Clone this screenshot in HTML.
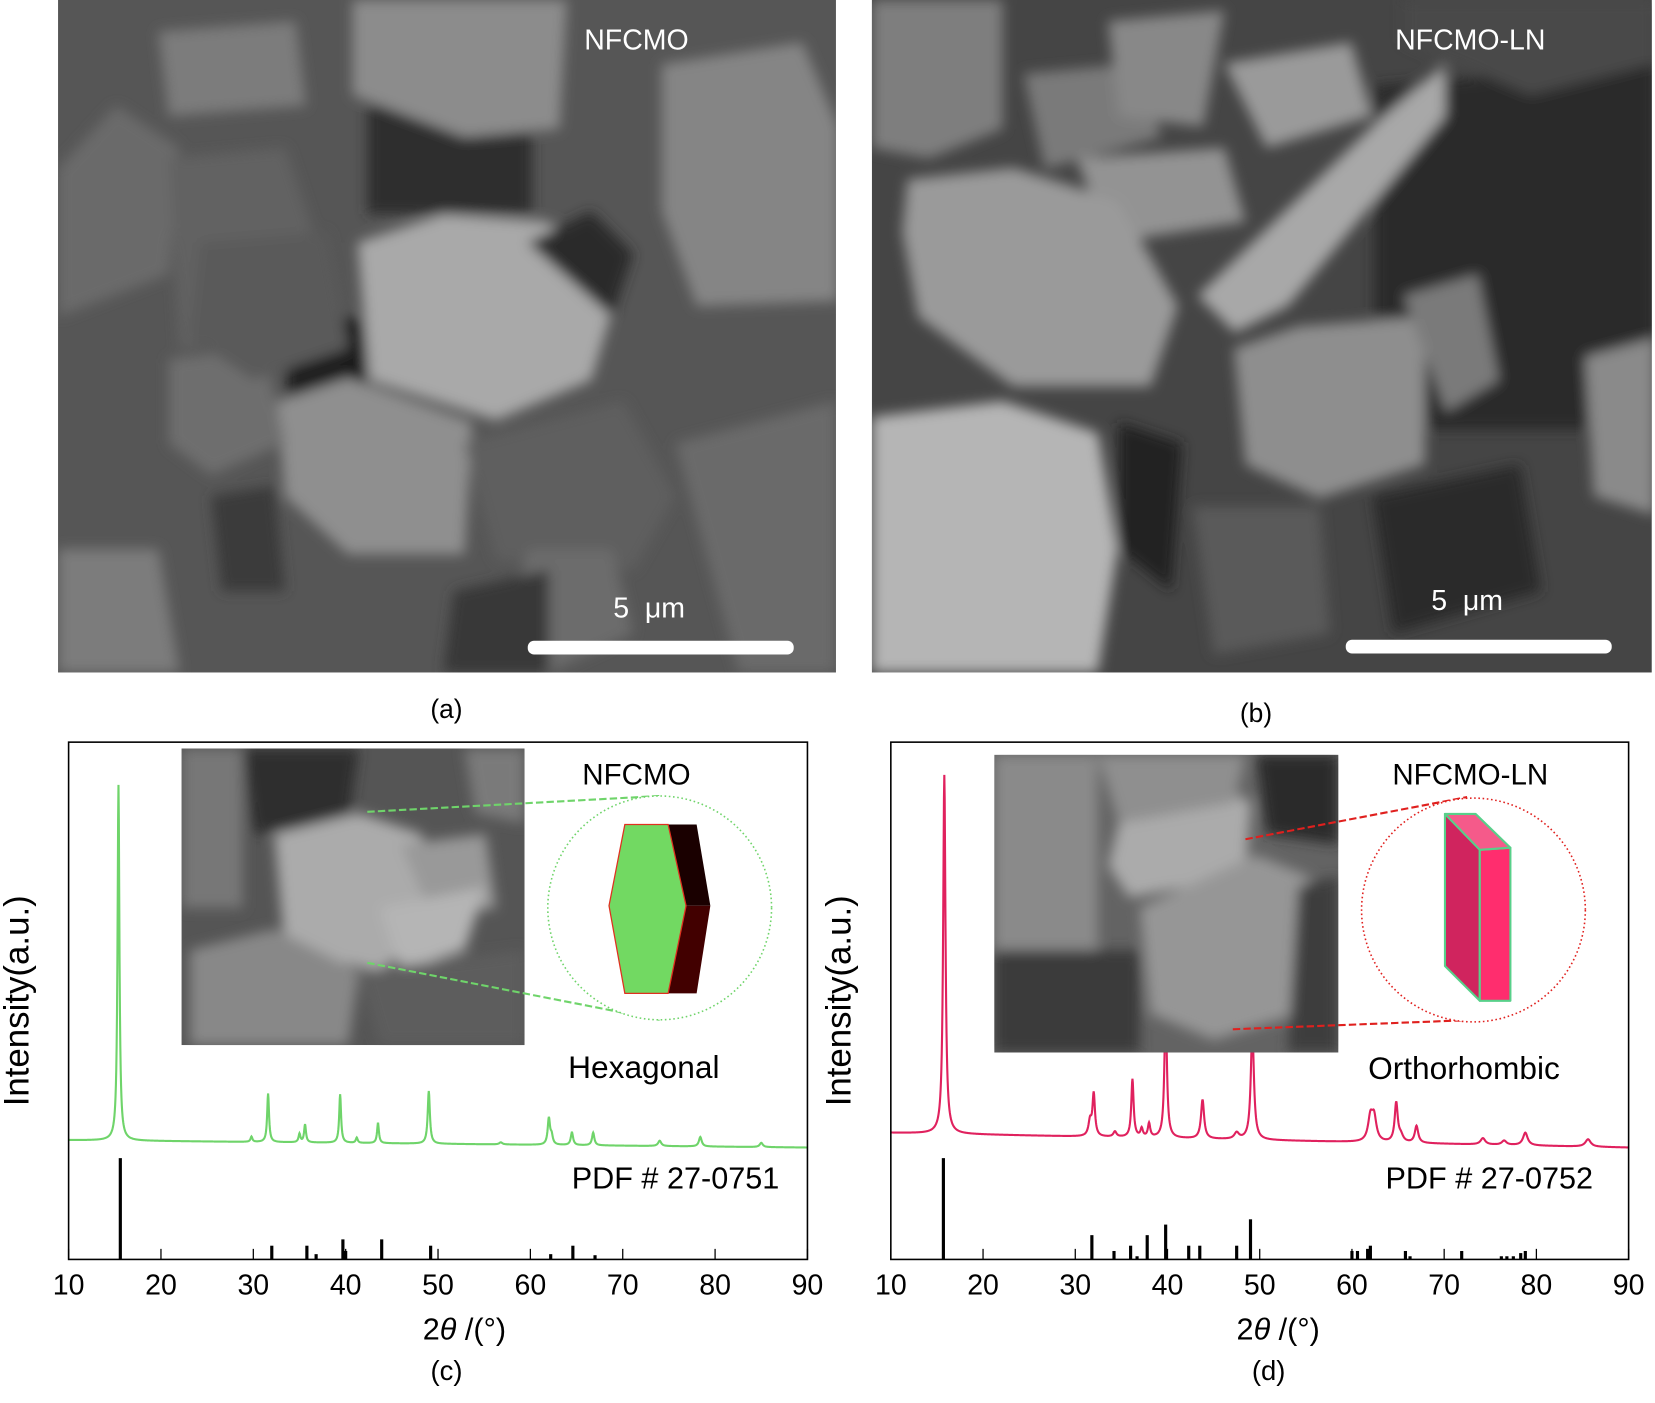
<!DOCTYPE html>
<html><head><meta charset="utf-8"><style>
html,body{margin:0;padding:0;background:#fff;}
svg{display:block;font-family:"Liberation Sans",Arial,sans-serif;}
</style></head><body>
<svg id="fig" width="1655" height="1403" viewBox="0 0 1568 1329" preserveAspectRatio="none" xmlns="http://www.w3.org/2000/svg">
<defs>
<filter id="bl" x="-10%" y="-10%" width="120%" height="120%"><feGaussianBlur stdDeviation="6"/></filter>
<clipPath id="ca"><rect x="55" y="0" width="737" height="637"/></clipPath>
<clipPath id="cb"><rect x="826" y="0" width="739" height="637"/></clipPath>
<clipPath id="cc"><rect x="172" y="709" width="325" height="281"/></clipPath>
<clipPath id="cd"><rect x="942" y="715" width="326" height="282"/></clipPath>
</defs>

<!-- SEM a -->
<g clip-path="url(#ca)">
<rect x="55" y="0" width="737" height="637" fill="#565656"/>
<g filter="url(#bl)">
<polygon points="348,100 504,100 504,203 348,203" fill="#2e2e2e"/>
<polygon points="272,301 348,301 348,386 272,386" fill="#1e1e1e"/>
<polygon points="55,160 110,100 170,140 160,260 55,300" fill="#6a6a6a"/>
<polygon points="160,150 270,140 300,230 280,320 170,330" fill="#626262"/>
<polygon points="150,30 280,20 290,100 160,110" fill="#7c7c7c"/>
<polygon points="334,0 537,0 530,122 440,130 334,90" fill="#8c8c8c"/>
<polygon points="627,61 760,40 794,120 794,285 660,290 627,200" fill="#858585"/>
<polygon points="339,230 420,203 520,210 584,280 560,360 470,398 350,360" fill="#a9a9a9"/>
<polygon points="263,380 330,358 447,400 440,525 330,525 270,470" fill="#8f8f8f"/>
<polygon points="160,340 250,330 270,420 200,450 160,420" fill="#6e6e6e"/>
<polygon points="440,420 590,380 640,470 600,540 470,530" fill="#5e5e5e"/>
<polygon points="500,520 580,520 600,600 520,637 480,600" fill="#6c6c6c"/>
<polygon points="640,420 792,380 792,637 700,637" fill="#6a6a6a"/>
<polygon points="55,520 150,520 170,637 55,637" fill="#7c7c7c"/>
<polygon points="190,230 310,220 330,330 240,360 180,320" fill="#5a5a5a"/>
<polygon points="430,560 520,540 520,637 420,637" fill="#383838"/>
<polygon points="500,230 560,200 600,240 580,300" fill="#2a2a2a"/>
<polygon points="200,470 260,460 270,560 210,560" fill="#3a3a3a"/>
</g>
</g>
<text x="603" y="47" font-size="27" fill="#fff" text-anchor="middle">NFCMO</text>
<text x="615" y="585" font-size="27" fill="#fff" text-anchor="middle" xml:space="preserve">5  μm</text>
<rect x="500" y="607" width="252" height="13" rx="6" fill="#fff"/>

<!-- SEM b -->
<g clip-path="url(#cb)">
<rect x="826" y="0" width="739" height="637" fill="#454545"/>
<g filter="url(#bl)">
<polygon points="826,0 950,0 950,122 880,150 826,140" fill="#7e7e7e"/>
<polygon points="1302,81 1568,60 1568,407 1302,407" fill="#2c2c2c"/>
<polygon points="1330,0 1568,0 1568,60 1450,90 1330,40" fill="#4a4a4a"/>
<polygon points="970,70 1080,60 1100,130 990,160" fill="#7a7a7a"/>
<polygon points="1050,20 1160,10 1140,120 1060,110" fill="#888"/>
<polygon points="1160,60 1280,40 1300,110 1200,140" fill="#9a9a9a"/>
<polygon points="1020,150 1160,140 1180,210 1050,230" fill="#939393"/>
<polygon points="860,170 960,159 1060,190 1116,290 1090,366 960,366 870,300 855,220" fill="#9a9a9a"/>
<polygon points="1135,280 1300,120 1369,61 1369,110 1220,290 1170,315" fill="#a8a8a8"/>
<polygon points="1169,330 1230,309 1350,300 1350,440 1250,472 1180,440" fill="#8e8e8e"/>
<polygon points="826,395 950,380 1040,410 1059,520 1040,637 826,637" fill="#b5b5b5"/>
<polygon points="1502,338 1568,320 1568,488 1510,470" fill="#8a8a8a"/>
<polygon points="1330,280 1400,260 1420,360 1370,390" fill="#7a7a7a"/>
<polygon points="1130,480 1250,480 1260,600 1150,620" fill="#5a5a5a"/>
<polygon points="1060,400 1120,420 1110,560 1060,520" fill="#222"/>
<polygon points="1300,470 1440,440 1460,560 1320,600" fill="#2a2a2a"/>
</g>
</g>
<text x="1393" y="47" font-size="27" fill="#fff" text-anchor="middle">NFCMO-LN</text>
<text x="1390" y="578" font-size="27" fill="#fff" text-anchor="middle" xml:space="preserve">5  μm</text>
<rect x="1275" y="606" width="252" height="13" rx="6" fill="#fff"/>

<text x="423" y="680" font-size="25" fill="#000" text-anchor="middle">(a)</text>
<text x="1190" y="684" font-size="25" fill="#000" text-anchor="middle">(b)</text>

<!-- chart c -->
<g id="chartC">
<g id="curveC"></g>
<g clip-path="url(#cc)">
<rect x="172" y="709" width="325" height="281" fill="#555"/>
<g filter="url(#bl)">
<polygon points="230,709 340,709 330,780 240,790" fill="#2e2e2e"/>
<polygon points="172,709 230,709 230,860 172,860" fill="#777"/>
<polygon points="260,790 340,770 400,790 410,880 360,920 270,900" fill="#ababab"/>
<polygon points="380,800 460,790 470,860 410,870" fill="#999"/>
<polygon points="360,860 460,840 440,900 380,920" fill="#b5b5b5"/>
<polygon points="180,900 260,880 340,920 330,990 180,990" fill="#888"/>
<polygon points="340,920 497,900 497,990 360,990" fill="#5d5d5d"/>
<polygon points="440,709 497,709 497,780 450,770" fill="#7a7a7a"/>
</g>
</g>
<line x1="348" y1="769" x2="625" y2="754" stroke="#6fd46a" stroke-width="2" stroke-dasharray="7,3"/>
<line x1="348" y1="912" x2="625" y2="966" stroke="#6fd46a" stroke-width="2" stroke-dasharray="7,3"/>
<ellipse cx="625" cy="860" rx="106" ry="106" fill="#fff" stroke="#6fd46a" stroke-width="1.5" stroke-dasharray="1.5,2.5"/>
<g>
<polygon points="633,781 660,781 673,858 650,858" fill="#1a0000"/>
<polygon points="650,858 673,858 660,941 633,941" fill="#420000"/>
<polygon points="592,781 633,781 650,858 633,941 592,941 577,858" fill="#72d962" stroke="#e03020" stroke-width="1.2"/>
</g>
<text x="603" y="743" font-size="28" text-anchor="middle">NFCMO</text>
<text x="610" y="1021" font-size="30" text-anchor="middle">Hexagonal</text>
<text x="640" y="1126" font-size="29" text-anchor="middle">PDF # 27-0751</text>
<g id="sticksC"></g>
<g id="axisC"></g>
</g>

<!-- chart d -->
<g id="chartD">
<g id="curveD"></g>
<g clip-path="url(#cd)">
<rect x="942" y="715" width="326" height="282" fill="#636363"/>
<g filter="url(#bl)">
<polygon points="942,715 1040,715 1040,900 942,900" fill="#8a8a8a"/>
<polygon points="1190,715 1268,715 1268,800 1200,790" fill="#2a2a2a"/>
<polygon points="942,900 1080,900 1080,997 942,997" fill="#3a3a3a"/>
<polygon points="1060,780 1150,740 1185,760 1180,830 1070,850 1050,820" fill="#ababab"/>
<polygon points="1080,860 1190,810 1240,830 1230,960 1150,985 1090,960" fill="#969696"/>
<polygon points="1040,715 1180,715 1170,760 1060,780" fill="#8f8f8f"/>
<polygon points="1230,840 1268,830 1268,997 1220,997" fill="#3e3e3e"/>
</g>
</g>
<line x1="1180" y1="795" x2="1390" y2="755" stroke="#e0201e" stroke-width="2" stroke-dasharray="7,3"/>
<line x1="1168" y1="975" x2="1400" y2="966" stroke="#e0201e" stroke-width="2" stroke-dasharray="7,3"/>
<ellipse cx="1396" cy="862" rx="106" ry="106" fill="#fff" stroke="#e0201e" stroke-width="1.5" stroke-dasharray="1.5,2.5"/>
<g stroke="#58d08a" stroke-width="2" stroke-linejoin="round">
<polygon points="1369,771 1402,805 1402,948 1369,915" fill="#d0245e"/>
<polygon points="1402,805 1431,803 1431,948 1402,948" fill="#ff2d6e"/>
<polygon points="1369,771 1398,771 1431,803 1402,805" fill="#f55a8a"/>
</g>
<text x="1393" y="743" font-size="28" text-anchor="middle">NFCMO-LN</text>
<text x="1387" y="1022" font-size="30" text-anchor="middle">Orthorhombic</text>
<text x="1411" y="1126" font-size="29" text-anchor="middle">PDF # 27-0752</text>
<g id="sticksD"></g>
<g id="axisD"></g>
</g>

<text transform="translate(27,948) rotate(-90)" font-size="33" text-anchor="middle">Intensity(a.u.)</text>
<text transform="translate(806,948) rotate(-90)" font-size="33" text-anchor="middle">Intensity(a.u.)</text>
<text x="440" y="1269" font-size="29" text-anchor="middle">2<tspan font-style="italic">θ</tspan> /(°)</text>
<text x="1211" y="1269" font-size="29" text-anchor="middle">2<tspan font-style="italic">θ</tspan> /(°)</text>
<text x="423" y="1307" font-size="26" text-anchor="middle">(c)</text>
<text x="1202" y="1307" font-size="26" text-anchor="middle">(d)</text>
</svg>
<script>
// ---- chart data ----
const xTicks = [10,20,30,40,50,60,70,80,90];
// NFCMO measured pattern peaks (2theta, relative intensity, width)
const peaksC_pos = [15.4,29.8,31.6,35.0,35.6,39.4,41.2,43.5,49.0,56.8,62.0,62.3,64.5,66.8,74.0,78.4,85.0];
const peaksC_int = [337,5,46,8,17,46,5,19,50,2,25,8,12,12,5,9,4];
const peaksC_wid = [0.12,0.12,0.12,0.12,0.12,0.12,0.12,0.12,0.14,0.2,0.15,0.15,0.15,0.15,0.2,0.18,0.2];
const baseC = [1080,1087];
// PDF 27-0751 sticks
const sticksC_pos = [15.6,32.0,35.8,36.8,39.7,40.0,43.9,49.2,62.2,64.6,67.0];
const sticksC_int = [96,13,13,5,19,8,19,13,5,13,4];
// NFCMO-LN measured peaks
const peaksD_pos = [15.8,31.6,32.0,34.3,36.2,37.2,38.0,39.8,43.8,47.5,49.2,62.0,62.4,64.8,65.3,67.0,74.2,76.5,78.8,85.6];
const peaksD_int = [340,14,40,5,55,8,13,125,37,6,105,22,22,37,6,16,6,4,12,7];
const peaksD_wid = [0.15,0.2,0.16,0.2,0.15,0.15,0.15,0.16,0.2,0.3,0.2,0.3,0.3,0.2,0.3,0.22,0.3,0.3,0.3,0.35];
const baseD = [1073,1087];
// PDF 27-0752 sticks
const sticksD_pos = [15.7,31.8,34.2,36.0,36.7,37.8,39.8,42.3,43.5,47.5,49.0,60.0,60.6,61.7,62.0,65.8,66.3,71.9,76.2,76.8,77.5,78.3,78.8];
const sticksD_int = [96,23,8,13,3,23,33,13,13,13,38,8,8,10,13,8,3,8,3,3,3,6,8];

const NS='http://www.w3.org/2000/svg';
function mk(tag,attrs,parent){const e=document.createElementNS(NS,tag);for(const k in attrs)e.setAttribute(k,attrs[k]);parent.appendChild(e);return e;}

function drawChart(L,R,T,B,pPos,pInt,pWid,base,sPos,sInt,color,curveId,stickId,axisId,tag){
  const xs=v=>L+(v-10)/80*(R-L);
  const baseAt=v=>base[0]+(base[1]-base[0])*(v-10)/80;
  let d='';
  for(let v=10;v<=90.0001;v+=0.04){
    let s=0;
    for(let i=0;i<pPos.length;i++){const z=(v-pPos[i])/pWid[i];s+=pInt[i]/(1+z*z);}
    const y=baseAt(v)-s;
    d+=(d?'L':'M')+xs(v).toFixed(2)+','+y.toFixed(2);
  }
  const cg=document.getElementById(curveId);
  const p=mk('path',{d:d,fill:'none',stroke:color,'stroke-width':2},cg);
  
  
  const sg=document.getElementById(stickId);
  for(let i=0;i<sPos.length;i++){
    const l=mk('line',{x1:xs(sPos[i]),x2:xs(sPos[i]),y1:B,y2:B-sInt[i],stroke:'#000','stroke-width':3},sg);
    
    
  }
  const ag=document.getElementById(axisId);
  const fr=mk('rect',{x:L,y:T,width:R-L,height:B-T,fill:'none',stroke:'#000','stroke-width':1.5},ag);
  
  
  for(const t of xTicks){
    const tk=mk('line',{x1:xs(t),x2:xs(t),y1:B,y2:B-10,stroke:'#000','stroke-width':1.2},ag);
    
    
    const tx=mk('text',{x:xs(t),y:B+33,'font-size':27,'text-anchor':'middle'},ag);
    tx.textContent=t;
    
    
  }
}
drawChart(65,765,703,1193,peaksC_pos,peaksC_int,peaksC_wid,baseC,sticksC_pos,sticksC_int,'#6fd46a','curveC','sticksC','axisC','c');
drawChart(844,1543,703,1193,peaksD_pos,peaksD_int,peaksD_wid,baseD,sticksD_pos,sticksD_int,'#e0215e','curveD','sticksD','axisD','d');
</script>
</body></html>
